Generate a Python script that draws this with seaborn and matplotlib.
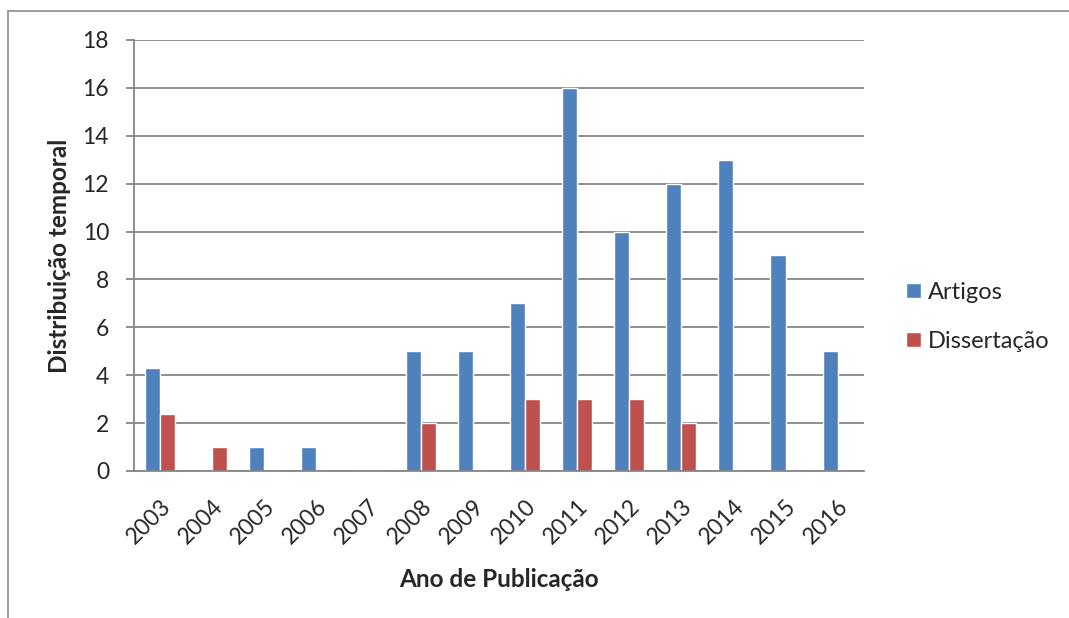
import numpy as np
import pandas as pd
import seaborn as sns
import matplotlib.pyplot as plt
from matplotlib.lines import Line2D
from matplotlib.patches import Patch

# Data
anos = ['2003', '2004', '2005', '2006', '2007', '2008', '2009',
        '2010', '2011', '2012', '2013', '2014', '2015', '2016']
artigos = [4.3, 0, 1, 1, 0, 5, 5, 7, 16, 10, 12, 13, 9, 5]
dissertacao = [2.4, 1, 0, 0, 0, 2, 0, 3, 3, 3, 2, 0, 0, 0]

df = pd.DataFrame({
    'Ano': anos * 2,
    'Valor': artigos + dissertacao,
    'Tipo': ['Artigos'] * len(anos) + ['Dissertação'] * len(anos),
})

sns.set_style('white')
plt.rcParams['font.family'] = ['Lato', 'DejaVu Sans']

colors = {'Artigos': '#4F81BD', 'Dissertação': '#C0504D'}
grid_col = '#868686'

fig = plt.figure(figsize=(10.69, 6.18), dpi=100)
ax = fig.add_axes([0.1254, 0.2379, 0.808 - 0.1254, 0.9353 - 0.2379])

sns.barplot(data=df, x='Ano', y='Valor', hue='Tipo', palette=colors,
            width=0.58, gap=0, dodge=True, saturation=1, ax=ax, legend=False)

ax.set_ylim(0, 18)
ax.set_yticks(np.arange(0, 19, 2))
ax.set_xlim(-0.5, len(anos) - 0.5)
ax.yaxis.grid(True, color=grid_col, linewidth=1.3)
ax.set_axisbelow(True)
for s in ['top', 'right']:
    ax.spines[s].set_visible(False)
for s in ['left', 'bottom']:
    ax.spines[s].set_color(grid_col)
    ax.spines[s].set_linewidth(1.3)

ax.tick_params(axis='y', which='major', labelsize=16.5, length=6, width=1.3,
               color=grid_col, left=True, pad=12)
ax.tick_params(axis='x', which='major', labelsize=16.5, length=0, pad=18)
plt.setp(ax.get_xticklabels(), rotation=45, ha='right', rotation_mode='anchor')

ax.set_xlabel('Ano de Publicação', fontsize=17.5, fontweight='bold', labelpad=14)
ax.set_ylabel('Distribuição temporal', fontsize=17.5, fontweight='bold', labelpad=8)

handles = [Patch(facecolor=colors[k]) for k in ['Artigos', 'Dissertação']]
fig.legend(handles, ['Artigos', 'Dissertação'], loc='center left',
           bbox_to_anchor=(0.839, 0.487), frameon=False, fontsize=17,
           handlelength=0.6, handleheight=0.6, handletextpad=0.3,
           labelspacing=1.2, borderaxespad=0)

# Outer chart border (top and left edges visible in the reference)
fig.add_artist(Line2D([8 / 1069, 1], [1 - 11 / 618, 1 - 11 / 618],
                      transform=fig.transFigure, color='#8c8c8c', linewidth=1.2))
fig.add_artist(Line2D([8 / 1069, 8 / 1069], [0, 1 - 11 / 618],
                      transform=fig.transFigure, color='#8c8c8c', linewidth=1.2))

plt.savefig('out.png', dpi=100)
